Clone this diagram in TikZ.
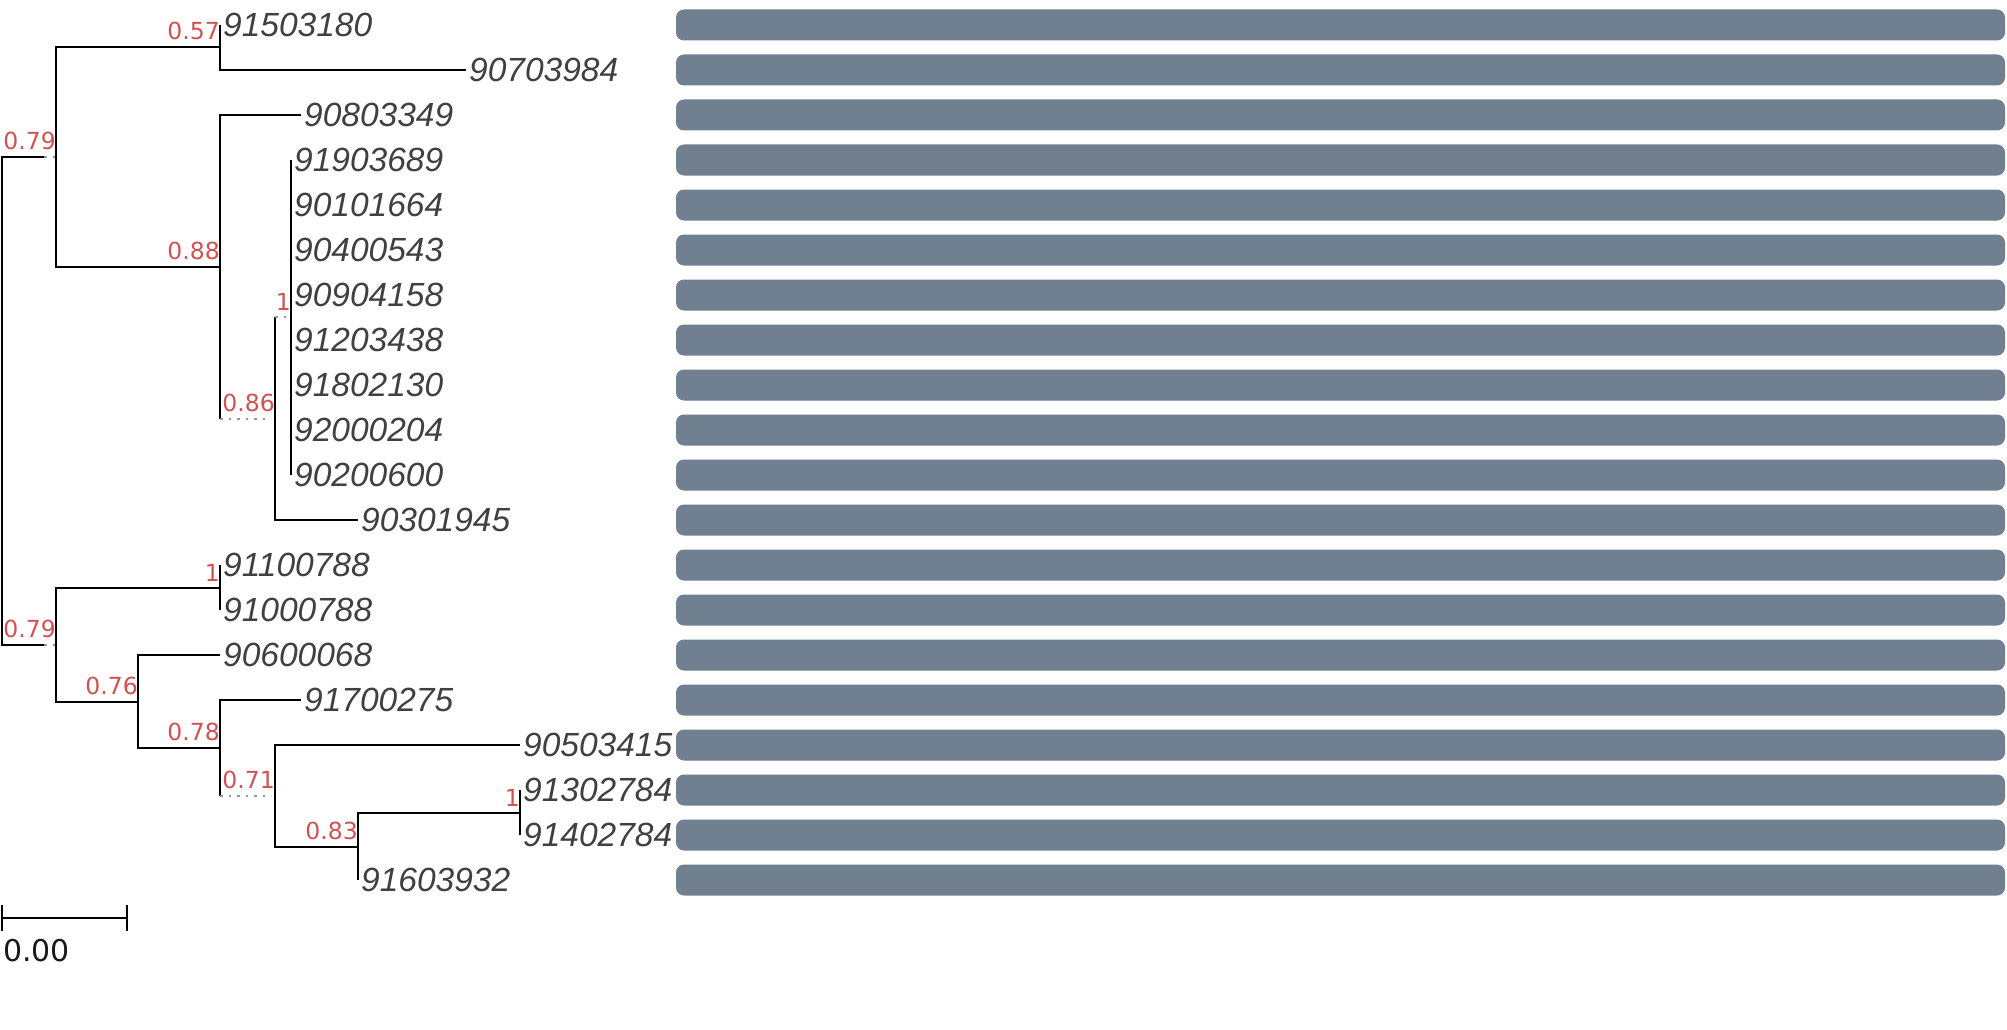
\documentclass[tikz,border=0pt]{standalone}
\usepackage{fontspec}
\newfontfamily\leaffont{Liberation Sans}
\newfontfamily\supfont{DejaVu Sans}
\newfontfamily\scbarfont{DejaVu Sans}
\definecolor{leafcol}{RGB}{64,64,64}
\definecolor{supcol}{RGB}{208,82,82}
\definecolor{barcol}{RGB}{112,128,144}
\definecolor{dotcol}{RGB}{150,150,150}
\tikzset{
  edge/.style={draw=black,line width=2pt},
  ext/.style={draw=dotcol,line width=1.5pt,dash pattern=on 2.5pt off 6pt},
  leaf/.style={anchor=west,inner sep=0pt,xshift=3pt,text=leafcol,font=\leaffont\itshape\fontsize{33.5}{33.5}\selectfont},
  sup/.style={anchor=south east,inner sep=0pt,yshift=6.5pt,text=supcol,font=\supfont\fontsize{23.5}{23.5}\selectfont},
  bar/.style={fill=barcol,draw=none,rounded corners=8pt,minimum width=1329pt,minimum height=31pt,inner sep=0pt}
}
\begin{document}
\begin{tikzpicture}[x=1pt,y=-1pt]
\useasboundingbox (0,0) rectangle (2007,1030);
% internal nodes
\coordinate (root) at (1.5,401);
\coordinate (e079a) at (44,157);
\coordinate (n079a) at (56,157);
\coordinate (e079b) at (44,645);
\coordinate (n079b) at (56,645);
\coordinate (n057) at (220,47);
\coordinate (n088) at (220,267);
\coordinate (e086) at (220,419);
\coordinate (n086) at (275,419);
\coordinate (e1a) at (275,317);
\coordinate (n1a) at (291,317);
\coordinate (n1b) at (220,588);
\coordinate (n076) at (138,702);
\coordinate (n078) at (220,748);
\coordinate (e071) at (220,796);
\coordinate (n071) at (275,796);
\coordinate (n083) at (358,847);
\coordinate (n1c) at (520,813);
% leaf tips
\coordinate (l1) at (220,25);
\coordinate (l2) at (466,70);
\coordinate (l3) at (301,115);
\coordinate (l4) at (291,160);
\coordinate (l5) at (291,205);
\coordinate (l6) at (291,250);
\coordinate (l7) at (291,295);
\coordinate (l8) at (291,340);
\coordinate (l9) at (291,385);
\coordinate (l10) at (291,430);
\coordinate (l11) at (291,475);
\coordinate (l12) at (358,520);
\coordinate (l13) at (220,565);
\coordinate (l14) at (220,610);
\coordinate (l15) at (220,655);
\coordinate (l16) at (301,700);
\coordinate (l17) at (520,745);
\coordinate (l18) at (520,790);
\coordinate (l19) at (520,835);
\coordinate (l20) at (358,880);
% edges
\path[edge] (root) |- (e079a) (root) |- (e079b);
\path[ext] (e079a) -- (n079a) (e079b) -- (n079b);
\path[edge] (n079a) |- (n057) (n079a) |- (n088);
\path[edge] (n057) |- (l1) (n057) |- (l2);
\path[edge] (n088) |- (l3) (n088) |- (e086);
\path[ext,shorten >=4pt] (e086) -- (n086);
\path[edge] (n086) |- (e1a) (n086) |- (l12);
\path[ext] (e1a) -- (n1a);
\path[edge] (n1a) |- (l4) (n1a) |- (l11);
\path[edge] (n079b) |- (n1b) (n079b) |- (n076);
\path[edge] (n1b) |- (l13) (n1b) |- (l14);
\path[edge] (n076) |- (l15) (n076) |- (n078);
\path[edge] (n078) |- (l16) (n078) |- (e071);
\path[ext,shorten >=4pt] (e071) -- (n071);
\path[edge] (n071) |- (l17) (n071) |- (n083);
\path[edge] (n083) |- (n1c) (n083) |- (l20);
\path[edge] (n1c) |- (l18) (n1c) |- (l19);
% support values
\node[sup] (s1) at (n079a) {0.79};
\node[sup] (s2) at (n057) {0.57};
\node[sup] (s3) at (n088) {0.88};
\node[sup] (s4) at (n086) {0.86};
\node[sup] (s5) at (n1a) {1};
\node[sup] (s6) at (n079b) {0.79};
\node[sup] (s7) at (n1b) {1};
\node[sup] (s8) at (n076) {0.76};
\node[sup] (s9) at (n078) {0.78};
\node[sup] (s10) at (n071) {0.71};
\node[sup] (s11) at (n083) {0.83};
\node[sup] (s12) at (n1c) {1};
% leaf labels
\node[leaf] (t1) at (l1) {91503180};
\node[leaf] (t2) at (l2) {90703984};
\node[leaf] (t3) at (l3) {90803349};
\node[leaf] (t4) at (l4) {91903689};
\node[leaf] (t5) at (l5) {90101664};
\node[leaf] (t6) at (l6) {90400543};
\node[leaf] (t7) at (l7) {90904158};
\node[leaf] (t8) at (l8) {91203438};
\node[leaf] (t9) at (l9) {91802130};
\node[leaf] (t10) at (l10) {92000204};
\node[leaf] (t11) at (l11) {90200600};
\node[leaf] (t12) at (l12) {90301945};
\node[leaf] (t13) at (l13) {91100788};
\node[leaf] (t14) at (l14) {91000788};
\node[leaf] (t15) at (l15) {90600068};
\node[leaf] (t16) at (l16) {91700275};
\node[leaf] (t17) at (l17) {90503415};
\node[leaf] (t18) at (l18) {91302784};
\node[leaf] (t19) at (l19) {91402784};
\node[leaf] (t20) at (l20) {91603932};
% bars
\foreach \i in {1,...,20}{
  \node[bar] (b\i) at (1340.5,{25+45*(\i-1)}) {};
}
% scale bar
\coordinate (sa) at (2,918);
\coordinate (sb) at (127,918);
\path[edge] (sa) -- (sb);
\path[edge] ([yshift=13pt]sa) -- ([yshift=-13pt]sa);
\path[edge] ([yshift=13pt]sb) -- ([yshift=-13pt]sb);
\node[anchor=north west,inner sep=0pt,text=black!90,font=\scbarfont\fontsize{30}{30}\selectfont] (sc) at (3,939) {0.00};
\end{tikzpicture}
\end{document}
